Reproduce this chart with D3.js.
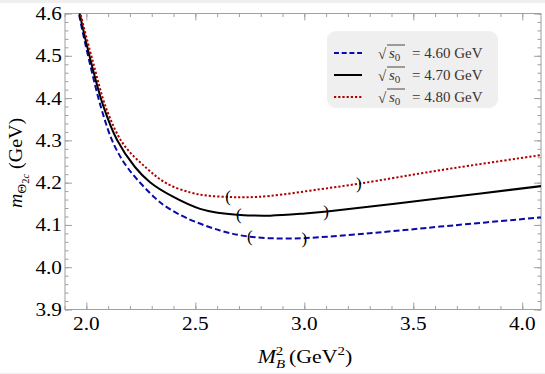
<!DOCTYPE html>
<html>
<head>
<meta charset="utf-8">
<script src="https://cdn.jsdelivr.net/npm/d3@7"></script>
<style>
  body { margin: 0; background: #fff; }
  text { font-family: "Liberation Serif", "Times New Roman", serif; }
</style>
</head>
<body>
<script>
// series: sqrt(s0) = 4.60, 4.70, 4.80 GeV
const s0Labels = ["4.60", "4.70", "4.80"];

const blueX = [1.95, 1.966, 2.017, 2.070, 2.124, 2.191, 2.315, 2.369, 2.461, 2.613, 2.751, 2.95, 3.2, 3.4, 3.623, 4.09];
const blueY = [4.66, 4.600, 4.480, 4.373, 4.293, 4.234, 4.164, 4.142, 4.116, 4.087, 4.072, 4.068, 4.076, 4.085, 4.096, 4.118];

const blackX = [1.95, 1.969, 2.021, 2.076, 2.141, 2.223, 2.292, 2.393, 2.522, 2.613, 2.705, 2.843, 3.003, 3.104, 3.623, 4.09];
const blackY = [4.65, 4.600, 4.486, 4.384, 4.301, 4.237, 4.201, 4.168, 4.138, 4.128, 4.1235, 4.122, 4.127, 4.1316, 4.163, 4.192];

const redX = [1.955, 1.973, 2.028, 2.093, 2.170, 2.277, 2.369, 2.476, 2.552, 2.650, 2.728, 2.843, 3.072, 3.256, 3.623, 4.09];
const redY = [4.645, 4.600, 4.490, 4.373, 4.291, 4.234, 4.198, 4.177, 4.1695, 4.1662, 4.1653, 4.1686, 4.1844, 4.198, 4.2294, 4.2655];

// working window markers "(" and ")"
const blueWin = [2.75, 3.00];
const blueWinY = [4.072, 4.0685];
const blackWin = [2.70, 3.10];
const blackWinY = [4.1236, 4.1314];
const redWin = [2.65, 3.25];
const redWinY = [4.1662, 4.1977];

const xTicks = [2.0, 2.5, 3.0, 3.5, 4.0];
const yTicks = [3.9, 4.0, 4.1, 4.2, 4.3, 4.4, 4.5, 4.6];

const W = 545, H = 374;
const pLeft = 65, pRight = 541, pTop = 13.5, pBottom = 309.5;
const stretch = 1.12; // text in the picture is a bit wider than plain Times

makeChart();

function makeChart() {
    var svg = d3.select("body").append("svg").attr("width", W).attr("height", H);

    // thin grey strip at the top/bottom edge of the picture
    svg.append("rect").attr("x", 0).attr("y", 0).attr("width", W).attr("height", 3).attr("fill", "#efefef");
    svg.append("rect").attr("x", 0).attr("y", H - 1).attr("width", W).attr("height", 1).attr("fill", "#efefef");

    var x = d3.scaleLinear().domain([1.902, 4.086]).range([pLeft, pRight]);
    var y = d3.scaleLinear().domain([3.9, 4.6]).range([pBottom, pTop]);

    svg.append("clipPath").attr("id", "clip")
        .append("rect").attr("x", pLeft).attr("y", pTop).attr("width", pRight - pLeft).attr("height", pBottom - pTop);

    //frame + ticks on all sides, pointing inwards
    var frame = "#a0a0a0";
    var xMinor = d3.range(19, 41).map(d => d / 10);
    var yMinor = d3.range(195, 231).map(d => d / 50);

    function axisOn(axis, tr) {
        var g = svg.append("g").attr("transform", tr).call(axis);
        g.select(".domain").remove();
        g.selectAll("line").attr("stroke", frame);
        g.selectAll("text").remove();
        return g;
    }
    axisOn(d3.axisBottom(x).tickValues(xMinor).tickSize(-3.5), "translate(0," + pBottom + ")");
    axisOn(d3.axisBottom(x).tickValues(xTicks).tickSize(-7), "translate(0," + pBottom + ")");
    axisOn(d3.axisTop(x).tickValues(xMinor).tickSize(-3.5), "translate(0," + pTop + ")");
    axisOn(d3.axisTop(x).tickValues(xTicks).tickSize(-7), "translate(0," + pTop + ")");
    axisOn(d3.axisLeft(y).tickValues(yMinor).tickSize(-3.5), "translate(" + pLeft + ",0)");
    axisOn(d3.axisLeft(y).tickValues(yTicks).tickSize(-7), "translate(" + pLeft + ",0)");
    axisOn(d3.axisRight(y).tickValues(yMinor).tickSize(-3.5), "translate(" + pRight + ",0)");
    axisOn(d3.axisRight(y).tickValues(yTicks).tickSize(-7), "translate(" + pRight + ",0)");

    svg.append("rect").attr("x", pLeft).attr("y", pTop).attr("width", pRight - pLeft).attr("height", pBottom - pTop)
        .attr("fill", "none").attr("stroke", frame).attr("stroke-width", 1);

    //tick labels
    svg.append("g").selectAll("text").data(xTicks).enter().append("text")
        .attr("transform", d => "translate(" + x(d) + ",330) scale(" + stretch + ",1)")
        .attr("text-anchor", "middle").attr("font-size", 19).text(d => d.toFixed(1));
    svg.append("g").selectAll("text").data(yTicks).enter().append("text")
        .attr("transform", d => "translate(62," + (y(d) + 6.5) + ") scale(" + stretch + ",1)")
        .attr("text-anchor", "end").attr("font-size", 19).text(d => d.toFixed(1));

    //axis labels
    var xl = svg.append("text").attr("transform", "translate(305,363) scale(1.15,1)")
        .attr("text-anchor", "middle").attr("font-size", 19);
    xl.append("tspan").attr("font-style", "italic").text("M");
    xl.append("tspan").attr("font-style", "italic").attr("font-size", 13).attr("dy", 5).text("B");
    xl.append("tspan").attr("font-size", 13).attr("dx", -8).attr("dy", -13).text("2");
    xl.append("tspan").attr("dx", 5).attr("dy", 8).text("(GeV");
    xl.append("tspan").attr("font-size", 13).attr("dy", -8).text("2");
    xl.append("tspan").attr("dy", 8).text(")");

    var yl = svg.append("text").attr("transform", "translate(22,163) rotate(-90) scale(1.05,1)")
        .attr("text-anchor", "middle").attr("font-size", 19);
    yl.append("tspan").attr("font-style", "italic").text("m");
    yl.append("tspan").attr("font-size", 13).attr("dy", 4).text("\u0398");
    yl.append("tspan").attr("font-size", 10).attr("dy", 3).text("2");
    yl.append("tspan").attr("font-size", 10).attr("font-style", "italic").text("c");
    yl.append("tspan").attr("dy", -7).text(" (GeV)");

    //curves
    var series = [
        { xs: blueX, ys: blueY, color: "#0a0aa8", dash: "6,3", win: blueWin, winY: blueWinY },
        { xs: blackX, ys: blackY, color: "#000000", dash: null, win: blackWin, winY: blackWinY },
        { xs: redX, ys: redY, color: "#b00000", dash: "2.2,2", win: redWin, winY: redWinY }
    ];
    var line = d3.line().x(d => x(d[0])).y(d => y(d[1])).curve(d3.curveCatmullRom.alpha(0.5));
    var plot = svg.append("g").attr("clip-path", "url(#clip)");
    series.forEach(function (s) {
        plot.append("path").datum(d3.zip(s.xs, s.ys))
            .attr("d", line).attr("fill", "none")
            .attr("stroke", s.color).attr("stroke-width", 2)
            .attr("stroke-dasharray", s.dash);
    });
    series.forEach(function (s) {
        svg.append("g").selectAll("text").data(d3.zip(s.win, s.winY)).enter().append("text")
            .attr("x", d => x(d[0])).attr("y", d => y(d[1]) + 5.5)
            .attr("text-anchor", "middle").attr("font-size", 17)
            .text((d, i) => i == 0 ? "(" : ")");
    });

    //legend
    svg.append("rect").attr("x", 327).attr("y", 31).attr("width", 171).attr("height", 77)
        .attr("rx", 9).attr("fill", "#efefef");
    var ly = d3.scaleBand().domain(s0Labels).range([42, 108]);
    series.forEach(function (s, i) {
        var cy = ly(s0Labels[i]) + 11;
        svg.append("line").attr("x1", 334).attr("x2", 362).attr("y1", cy).attr("y2", cy)
            .attr("stroke", s.color).attr("stroke-width", 2)
            .attr("stroke-dasharray", s.dash ? (i == 0 ? "5,2.7" : s.dash) : null);
        var g = svg.append("g").attr("fill", "#3a3430").attr("font-size", 15);
        g.append("text").attr("x", 378).attr("y", cy + 6).text("\u221A");
        var t = g.append("text").attr("x", 389).attr("y", cy + 5);
        t.append("tspan").attr("font-style", "italic").text("s");
        t.append("tspan").attr("font-size", 11).attr("dy", 3).text("0");
        g.append("line").attr("x1", 387).attr("x2", 405).attr("y1", cy - 8).attr("y2", cy - 8)
            .attr("stroke", "#3a3430").attr("stroke-width", 0.9);
        g.append("text").attr("x", 412).attr("y", cy + 5).text("= " + s0Labels[i] + " GeV");
    });
}
</script>
</body>
</html>
